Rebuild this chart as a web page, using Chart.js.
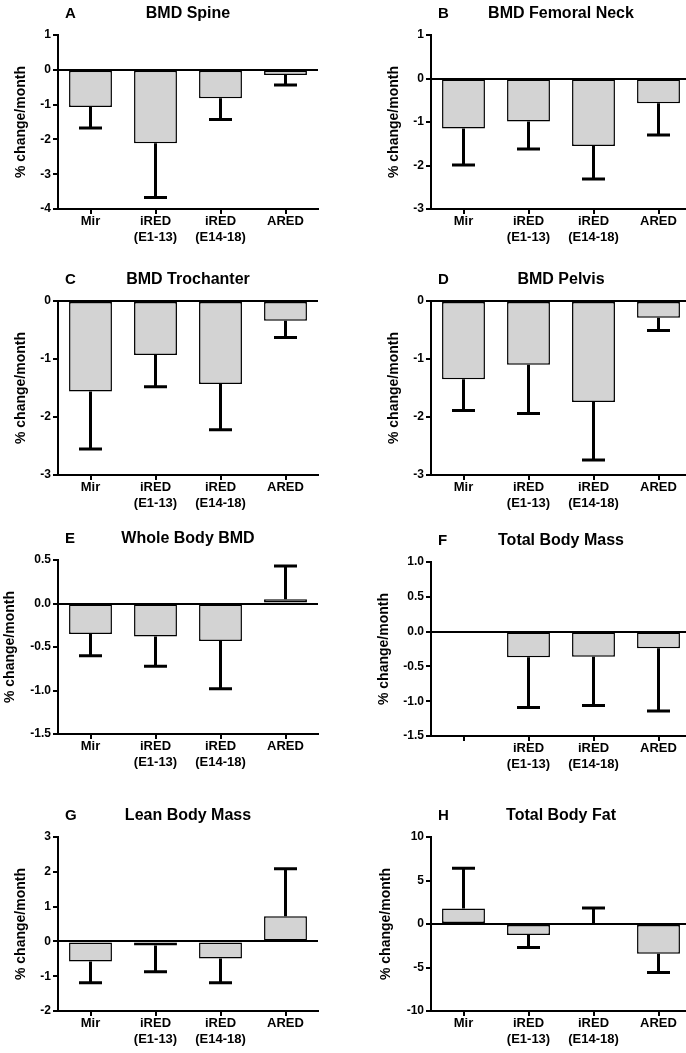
<!DOCTYPE html>
<html>
<head>
<meta charset="utf-8">
<script src="https://cdn.jsdelivr.net/npm/chart.js@4.4.0/dist/chart.umd.min.js"></script>
<style>
html, body { margin: 0; padding: 0; background: #fff; overflow: hidden; width: 686px; height: 1053px; }
canvas { position: absolute; }
</style>
</head>
<body>
<script>
// categories
const groups = ['Mir', ['iRED', '(E1-13)'], ['iRED', '(E14-18)'], 'ARED']
const groupsNoMir = ['', ['iRED', '(E1-13)'], ['iRED', '(E14-18)'], 'ARED']

// mean % change/month and SD per group
const spineMean = [-1.07, -2.11, -0.82, -0.15]
const spineSd = [0.60, 1.56, 0.61, 0.29]
const neckMean = [-1.15, -0.99, -1.55, -0.57]
const neckSd = [0.84, 0.63, 0.76, 0.73]
const trochMean = [-1.56, -0.93, -1.43, -0.34]
const trochSd = [0.99, 0.55, 0.79, 0.29]
const pelvisMean = [-1.35, -1.10, -1.74, -0.29]
const pelvisSd = [0.54, 0.84, 1.00, 0.22]
const wholeMean = [-0.35, -0.38, -0.43, 0.05]
const wholeSd = [0.25, 0.34, 0.55, 0.38]
const massMean = [null, -0.37, -0.36, -0.24]
const massSd = [null, 0.72, 0.70, 0.90]
const leanMean = [-0.58, -0.12, -0.49, 0.72]
const leanSd = [0.61, 0.75, 0.70, 1.37]
const fatMean = [1.77, -1.27, 0.08, -3.43]
const fatSd = [4.63, 1.43, 1.77, 2.14]

// y axis ticks
const ticksA = { min: -4, max: 1, step: 1, dec: 0 }
const ticksB = { min: -3, max: 1, step: 1, dec: 0 }
const ticksCD = { min: -3, max: 0, step: 1, dec: 0 }
const ticksE = { min: -1.5, max: 0.5, step: 0.5, dec: 1 }
const ticksF = { min: -1.5, max: 1, step: 0.5, dec: 1 }
const ticksG = { min: -2, max: 3, step: 1, dec: 0 }
const ticksH = { min: -10, max: 10, step: 5, dec: 0 }

const panels = [
    { letter: 'A', title: 'BMD Spine', labels: groups, mean: spineMean, sd: spineSd, y: ticksA, left: 0, top: 0, pad: 13 },
    { letter: 'B', title: 'BMD Femoral Neck', labels: groups, mean: neckMean, sd: neckSd, y: ticksB, left: 343, top: 0, pad: 43 },
    { letter: 'C', title: 'BMD Trochanter', labels: groups, mean: trochMean, sd: trochSd, y: ticksCD, left: 0, top: 266, pad: 13 },
    { letter: 'D', title: 'BMD Pelvis', labels: groups, mean: pelvisMean, sd: pelvisSd, y: ticksCD, left: 343, top: 266, pad: 43 },
    { letter: 'E', title: 'Whole Body BMD', labels: groups, mean: wholeMean, sd: wholeSd, y: ticksE, left: 0, top: 525, pad: 2 },
    { letter: 'F', title: 'Total Body Mass', labels: groupsNoMir, mean: massMean, sd: massSd, y: ticksF, left: 343, top: 527, pad: 33 },
    { letter: 'G', title: 'Lean Body Mass', labels: groups, mean: leanMean, sd: leanSd, y: ticksG, left: 0, top: 802, pad: 13 },
    { letter: 'H', title: 'Total Body Fat', labels: groups, mean: fatMean, sd: fatSd, y: ticksH, left: 343, top: 802, pad: 35 },
]

Chart.defaults.font.family = '"Liberation Sans", Arial, Helvetica, sans-serif'
Chart.defaults.color = '#000'

// SD whisker away from zero, with a cap
const errorBars = {
    id: 'errorBars',
    afterDatasetsDraw(chart) {
        const ctx = chart.ctx
        const ds = chart.data.datasets[0]
        const yScale = chart.scales.y
        ctx.save()
        ctx.strokeStyle = '#000'
        ctx.lineWidth = 3
        chart.getDatasetMeta(0).data.forEach((bar, i) => {
            const m = ds.data[i]
            if (m == null) return
            const end = m + (m < 0 ? -1 : 1) * ds.sd[i]
            const y1 = yScale.getPixelForValue(end)
            ctx.beginPath()
            ctx.moveTo(bar.x, bar.y)
            ctx.lineTo(bar.x, y1)
            ctx.moveTo(bar.x - 11.5, y1)
            ctx.lineTo(bar.x + 11.5, y1)
            ctx.stroke()
        })
        ctx.restore()
    }
}

const panelLetter = {
    id: 'panelLetter',
    afterDraw(chart, args, opts) {
        const ctx = chart.ctx
        ctx.save()
        ctx.fillStyle = '#000'
        ctx.font = 'bold 15px "Liberation Sans", Arial, sans-serif'
        ctx.textBaseline = 'middle'
        ctx.fillText(opts.text, chart.chartArea.left + 7, chart.chartArea.top - 21)
        ctx.restore()
    }
}

panels.forEach((p) => {
    const isRight = p.left > 0
    const w = isRight ? 360 : 343
    const h = 259
    const axisX = isRight ? 88 : 58
    const cv = document.createElement('canvas')
    cv.width = w
    cv.height = h
    cv.style.left = p.left + 'px'
    cv.style.top = p.top + 'px'
    document.body.appendChild(cv)

    new Chart(cv, {
        type: 'bar',
        data: {
            labels: p.labels,
            datasets: [{
                data: p.mean,
                sd: p.sd,
                backgroundColor: '#d3d3d3',
                borderColor: '#000',
                borderWidth: 1.5,
                borderSkipped: false,
                categoryPercentage: 1,
                barPercentage: 0.66
            }]
        },
        options: {
            responsive: false,
            animation: false,
            layout: { padding: { left: p.pad, right: isRight ? 12 : 25, top: 0, bottom: 0 } },
            plugins: {
                legend: { display: false },
                tooltip: { enabled: false },
                title: {
                    display: true,
                    text: p.title,
                    fullSize: false,
                    font: { size: 16, weight: 'bold', lineHeight: 1.125 },
                    padding: { top: 5, bottom: 12 }
                },
                panelLetter: { text: p.letter }
            },
            scales: {
                x: {
                    offset: true,
                    grid: { offset: false, drawOnChartArea: false, tickLength: 5, color: '#000', lineWidth: 2 },
                    border: { color: '#000', width: 2 },
                    ticks: { font: { size: 13, weight: 'bold', lineHeight: 1.2 }, padding: 0, maxRotation: 0, autoSkip: false },
                    afterFit: (s) => { s.height = 50 }
                },
                y: {
                    z: 1,
                    min: p.y.min,
                    max: p.y.max,
                    ticks: {
                        stepSize: p.y.step,
                        callback: (v) => v.toFixed(p.y.dec),
                        font: { size: 12, weight: 'bold' },
                        padding: 2
                    },
                    grid: {
                        color: (c) => (c.tick && c.tick.value === 0 ? '#000' : 'rgba(0,0,0,0)'),
                        tickColor: '#000',
                        tickLength: 5,
                        lineWidth: 2
                    },
                    border: { color: '#000', width: 2 },
                    title: { display: true, text: '% change/month', font: { size: 14, weight: 'bold' }, padding: 0 },
                    afterFit: (s) => { s.width = axisX - p.pad }
                }
            }
        },
        plugins: [errorBars, panelLetter]
    })
})
</script>
</body>
</html>
